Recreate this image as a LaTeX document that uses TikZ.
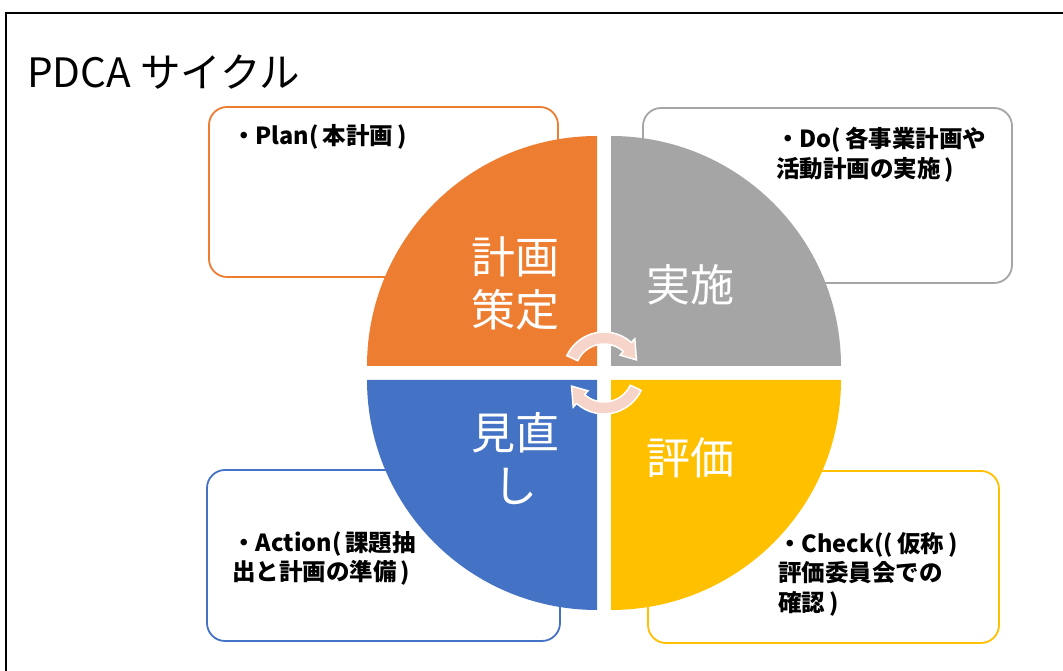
\documentclass[tikz,border=0pt]{standalone}
\usepackage{fontspec}
\setmainfont{Noto Sans CJK JP}
\usepackage{tikz}
\usetikzlibrary{positioning}
\definecolor{planorange}{HTML}{ED7D31}
\definecolor{dogray}{HTML}{A5A5A5}
\definecolor{actblue}{HTML}{4472C4}
\definecolor{checkyellow}{HTML}{FFC000}
\definecolor{cyclepink}{HTML}{F7D4C9}

\begin{document}
\begin{tikzpicture}[
    x=1pt, y=1pt,
    box/.style={draw, fill=white, line width=1.8pt, rounded corners=18pt, inner sep=0pt},
    boxtext/.style={align=left, inner sep=0pt, font=\fontsize{23.5}{29.5}\selectfont\bfseries},
    quadlabel/.style={text=white, align=center, inner sep=0pt, font=\fontsize{44}{53}\selectfont},
    cyclearrow/.style={fill=cyclepink, draw=white, line width=1.5pt}
]
    \useasboundingbox (0,0) rectangle (1063,671);
    % Frame and title
    \draw[line width=2pt] (6,-20) rectangle (1090,658);
    \node[anchor=base west, inner sep=0pt, font=\fontsize{40.5}{48}\selectfont] (title) at (27,583) {PDCA サイクル};

    % Boxes
    \node[box, draw=planorange, minimum width=349pt, minimum height=170pt] (plan) at (383.5,479) {};
    \node[box, draw=dogray, minimum width=369pt, minimum height=175pt] (do) at (827.5,475.5) {};
    \node[box, draw=actblue, minimum width=353pt, minimum height=171pt] (act) at (383.5,115.5) {};
    \node[box, draw=checkyellow, minimum width=351pt, minimum height=172pt] (check) at (823.5,114) {};

    % Box texts
    \node[boxtext, below right=18pt and 24pt of plan.north west] (plantext) {・Plan(\,本計画\,)};
    \node[boxtext, below right=20pt and 134pt of do.north west] (dotext) {・Do(\,各事業計画や\\活動計画の実施\,)};
    \node[boxtext, below right=62pt and 26pt of act.north west] (acttext) {・Action(\,課題抽\\出と計画の準備\,)};
    \node[boxtext, below right=62pt and 131pt of check.north west] (checktext) {・Check((\,仮称\,)\\評価委員会での\\確認\,)};

    % Quadrants
    \fill[planorange] (597,305) -- (367,305) arc[start angle=180, end angle=90, radius=230] -- cycle;
    \fill[dogray] (611,305) -- (611,535) arc[start angle=90, end angle=0, radius=230] -- cycle;
    \fill[actblue] (597,291) -- (597,61) arc[start angle=270, end angle=180, radius=230] -- cycle;
    \fill[checkyellow] (611,291) -- (841,291) arc[start angle=0, end angle=-90, radius=230] -- cycle;

    % Quadrant labels
    \node[quadlabel] (plantitle) at (515,388) {計画\\策定};
    \node[quadlabel] (dotitle) at (690,386) {実施};
    \node[quadlabel] (acttitle) at (515,212) {見直\\し};
    \node[quadlabel] (checktitle) at (690,213) {評価};

    % Cycle arrows
    \foreach \r in {0,180}
        \filldraw[cyclearrow, shift={(604,298)}, rotate=\r] (155:29) arc[start angle=155, end angle=48, radius=29]
            -- (48:24) -- (22:35) -- (48:46) -- (48:41) arc[start angle=48, end angle=155, radius=41] -- cycle;
\end{tikzpicture}
\end{document}
